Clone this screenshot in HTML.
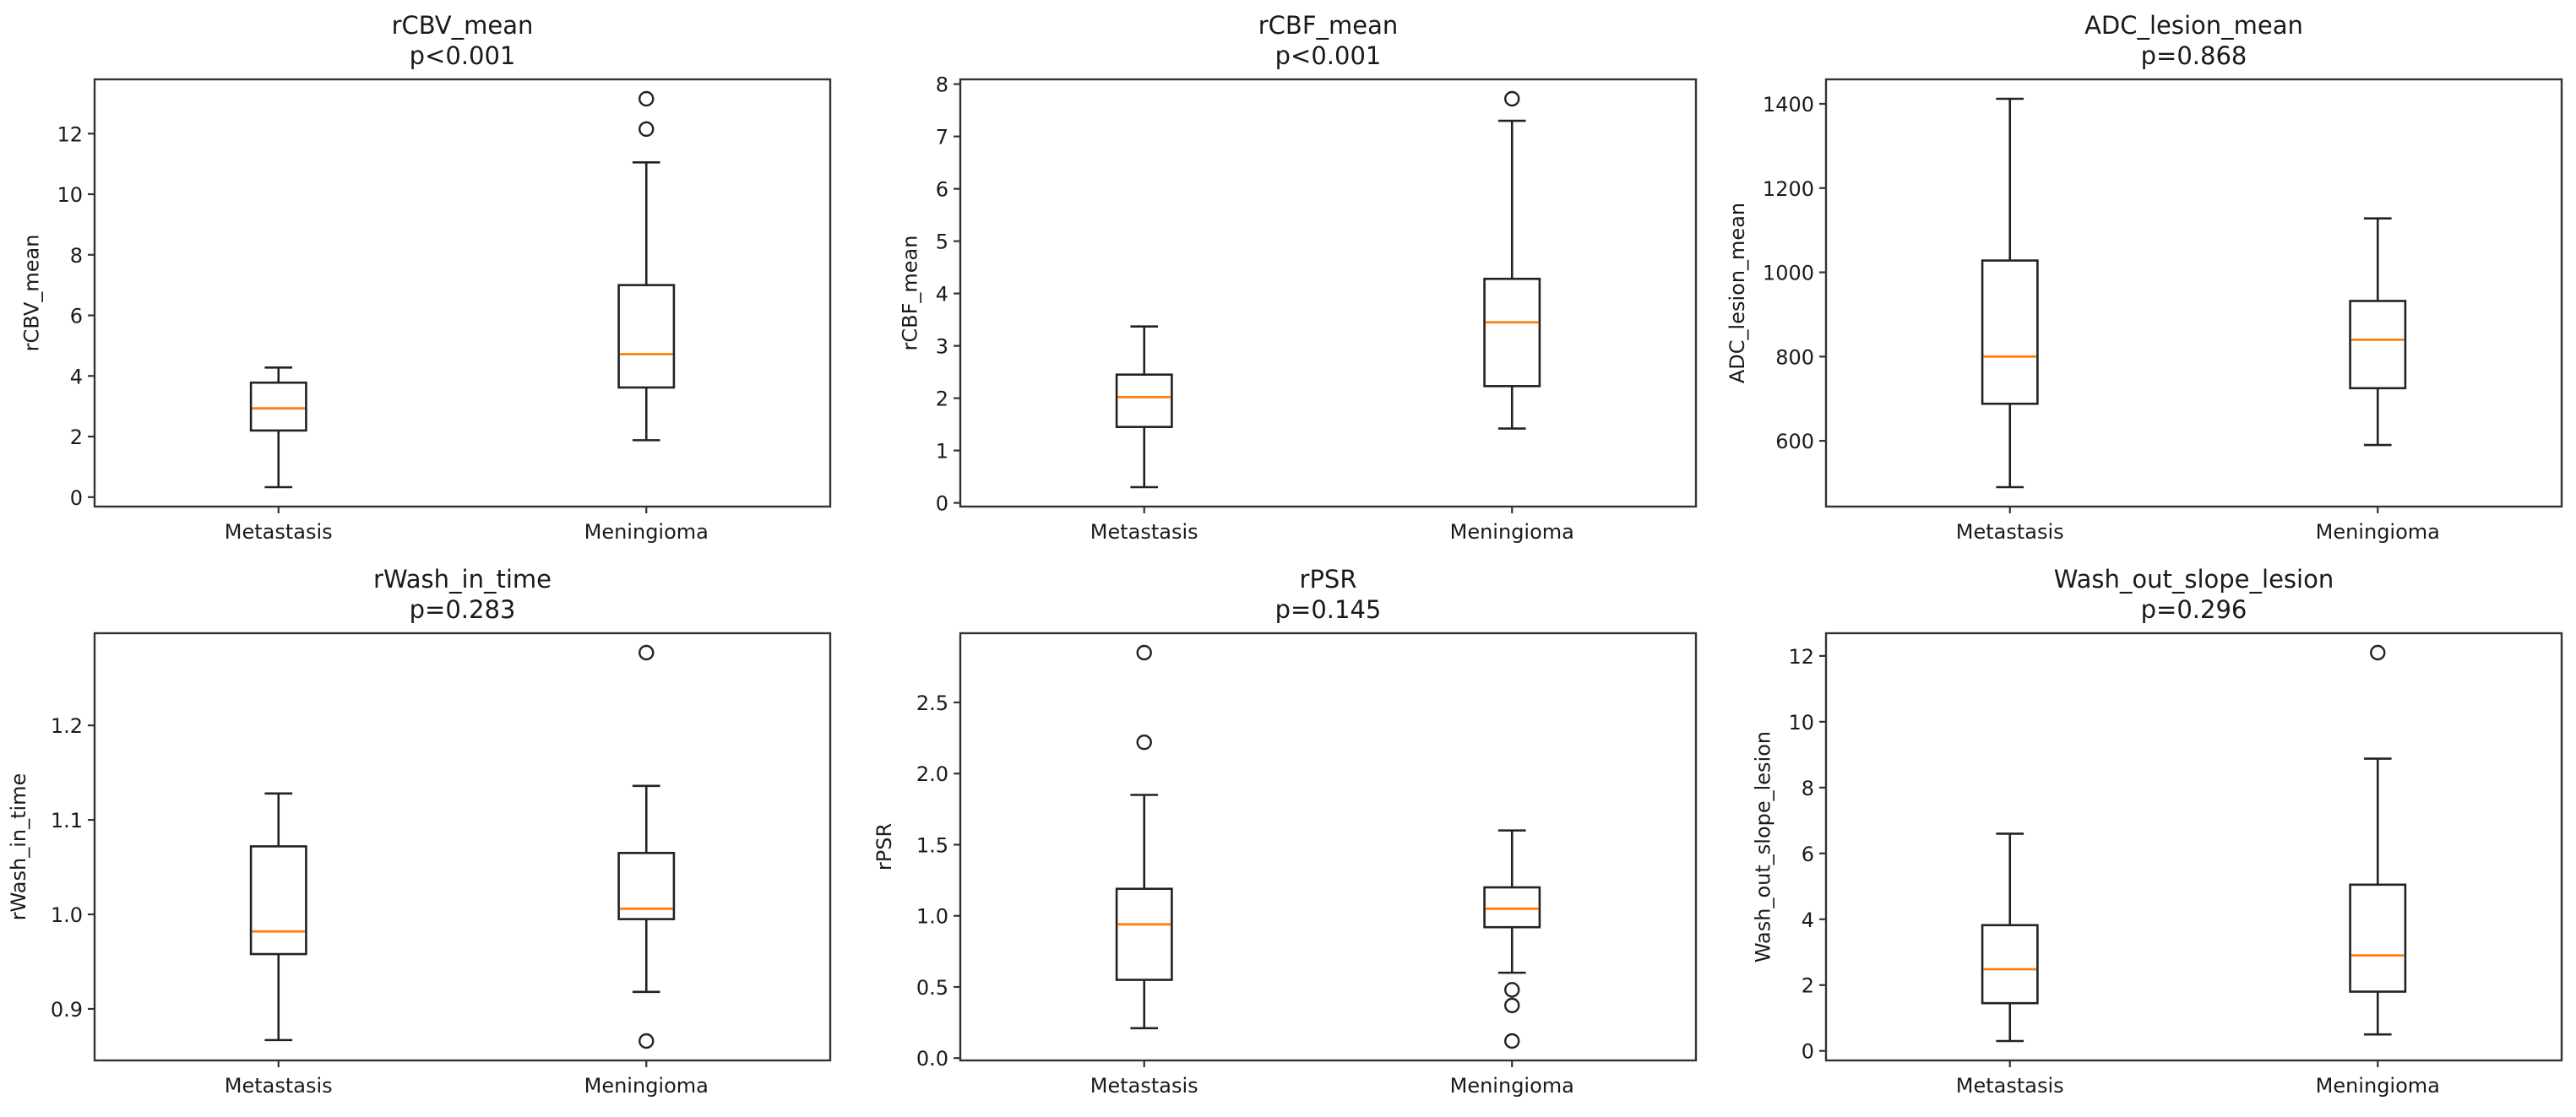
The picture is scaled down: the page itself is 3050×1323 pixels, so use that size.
<!DOCTYPE html>
<html><head><meta charset="utf-8"><style>
html,body{margin:0;padding:0;background:#fff;}
svg{display:block;}
text{font-family:"DejaVu Sans","Liberation Sans",sans-serif;fill:#1a1a1a;}
</style></head><body>
<svg id="fig" width="3050" height="1323" viewBox="0 0 3050 1323" xmlns="http://www.w3.org/2000/svg"></svg>
<script>
const categories = ["Metastasis", "Meningioma"];
const titles = ["rCBV_mean", "rCBF_mean", "ADC_lesion_mean", "rWash_in_time", "rPSR", "Wash_out_slope_lesion"];
const pvalues = ["p<0.001", "p<0.001", "p=0.868", "p=0.283", "p=0.145", "p=0.296"];
// [whisLo, q1, median, q3, whisHi] per category
const rCBVStats = [[0.33, 2.2, 2.93, 3.78, 4.28], [1.88, 3.62, 4.72, 7.0, 11.05]];
const rCBVFliers = [[], [12.15, 13.15]];
const rCBFStats = [[0.3, 1.45, 2.02, 2.45, 3.37], [1.42, 2.23, 3.45, 4.28, 7.3]];
const rCBFFliers = [[], [7.72]];
const adcStats = [[490, 688, 800, 1028, 1412], [590, 725, 840, 932, 1128]];
const adcFliers = [[], []];
const washInStats = [[0.867, 0.958, 0.982, 1.072, 1.128], [0.918, 0.995, 1.006, 1.065, 1.136]];
const washInFliers = [[], [0.866, 1.277]];
const rPSRStats = [[0.21, 0.55, 0.94, 1.19, 1.85], [0.60, 0.92, 1.05, 1.20, 1.60]];
const rPSRFliers = [[2.22, 2.85], [0.48, 0.37, 0.12]];
const washOutStats = [[0.3, 1.45, 2.48, 3.82, 6.6], [0.5, 1.8, 2.9, 5.05, 8.88]];
const washOutFliers = [[], [12.1]];
const yTicks1 = [0, 2, 4, 6, 8, 10, 12];
const yTicks2 = [0, 1, 2, 3, 4, 5, 6, 7, 8];
const yTicks3 = [600, 800, 1000, 1200, 1400];
const yTicks4 = [0.9, 1.0, 1.1, 1.2];
const yTicks5 = [0.0, 0.5, 1.0, 1.5, 2.0, 2.5];
const yTicks6 = [0, 2, 4, 6, 8, 10, 12];
const yTickLabels4 = ["0.9", "1.0", "1.1", "1.2"];
const yTickLabels5 = ["0.0", "0.5", "1.0", "1.5", "2.0", "2.5"];

const NS = "http://www.w3.org/2000/svg";
const svg = document.getElementById("fig");
function mk(tag, attrs, parent) {
  const e = document.createElementNS(NS, tag);
  for (const k in attrs) e.setAttribute(k, attrs[k]);
  (parent || svg).appendChild(e);
  return e;
}
const panels = [
  {stats: rCBVStats, fliers: rCBVFliers, ticks: yTicks1, labels: null, x: 112, y: 94},
  {stats: rCBFStats, fliers: rCBFFliers, ticks: yTicks2, labels: null, x: 1137, y: 94},
  {stats: adcStats, fliers: adcFliers, ticks: yTicks3, labels: null, x: 2162, y: 94},
  {stats: washInStats, fliers: washInFliers, ticks: yTicks4, labels: yTickLabels4, x: 112, y: 750},
  {stats: rPSRStats, fliers: rPSRFliers, ticks: yTicks5, labels: yTickLabels5, x: 1137, y: 750},
  {stats: washOutStats, fliers: washOutFliers, ticks: yTicks6, labels: null, x: 2162, y: 750}
];
const W = 871, H = 506;
panels.forEach((p, i) => {
  const g = mk("g", {});
  
  
  // y range like matplotlib autoscale (5% margin)
  let lo = Infinity, hi = -Infinity;
  p.stats.forEach((s, c) => { lo = Math.min(lo, s[0], ...p.fliers[c]); hi = Math.max(hi, s[4], ...p.fliers[c]); });
  const pad = (hi - lo) * 0.05; const y0 = lo - pad, y1 = hi + pad;
  const yS = v => p.y + H - (v - y0) / (y1 - y0) * H;
  const xS = c => p.x + W * (c + 0.5) / 2; // positions 1,2 in range 0.5..2.5
  const boxW = 0.15 / 2 * W;
  // title
  const t1 = mk("text", {x: p.x + W / 2, y: p.y - 54, "text-anchor": "middle", "font-size": 29}, g);
  t1.textContent = titles[i];
  
  
  const t2 = mk("text", {x: p.x + W / 2, y: p.y - 18, "text-anchor": "middle", "font-size": 29}, g);
  t2.textContent = pvalues[i];
  
  
  // y ticks
  let maxw = 0;
  p.ticks.forEach((v, k) => {
    const yy = yS(v);
    mk("line", {x1: p.x - 8, x2: p.x, y1: yy, y2: yy, stroke: "#333", "stroke-width": 2.2}, g);
    const lab = p.labels ? p.labels[k] : String(v);
    const tt = mk("text", {x: p.x - 14, y: yy + 9, "text-anchor": "end", "font-size": 24}, g);
    tt.textContent = lab;
    
    
    maxw = Math.max(maxw, lab.length * 15.3);
  });
  // y label
  const yl = p.x - maxw - 36;
  const ylab = mk("text", {x: yl, y: p.y + H / 2, "text-anchor": "middle", "font-size": 24, transform: `rotate(-90 ${yl} ${p.y + H / 2})`}, g);
  ylab.textContent = titles[i];
  
  
  // x ticks
  categories.forEach((cat, c) => {
    const xx = xS(c);
    mk("line", {x1: xx, x2: xx, y1: p.y + H, y2: p.y + H + 8, stroke: "#333", "stroke-width": 2.2}, g);
    const tx = mk("text", {x: xx, y: p.y + H + 38, "text-anchor": "middle", "font-size": 24}, g);
    tx.textContent = cat;
    
    
  });
  // boxes
  p.stats.forEach((s, c) => {
    const xx = xS(c);
    const bg = mk("g", {stroke: "#222", "stroke-width": 2.6, fill: "none"}, g);
    
    
    mk("rect", {x: xx - boxW / 2, y: yS(s[3]), width: boxW, height: yS(s[1]) - yS(s[3])}, bg);
    mk("line", {x1: xx, x2: xx, y1: yS(s[1]), y2: yS(s[0])}, bg);
    mk("line", {x1: xx, x2: xx, y1: yS(s[3]), y2: yS(s[4])}, bg);
    mk("line", {x1: xx - boxW / 4, x2: xx + boxW / 4, y1: yS(s[0]), y2: yS(s[0])}, bg);
    mk("line", {x1: xx - boxW / 4, x2: xx + boxW / 4, y1: yS(s[4]), y2: yS(s[4])}, bg);
    mk("line", {x1: xx - boxW / 2 + 1.5, x2: xx + boxW / 2 - 1.5, y1: yS(s[2]), y2: yS(s[2]), stroke: "#ff7f0e", "stroke-width": 2.8}, bg);
    p.fliers[c].forEach(f => {
      const fl = mk("circle", {cx: xx, cy: yS(f), r: 8, stroke: "#222", "stroke-width": 2.4, fill: "none"}, g);
      
      
    });
  });
  // axes frame
  const fr = mk("rect", {x: p.x, y: p.y, width: W, height: H, fill: "none", stroke: "#333", "stroke-width": 2.4}, g);
  
  
});
</script>
</body></html>
